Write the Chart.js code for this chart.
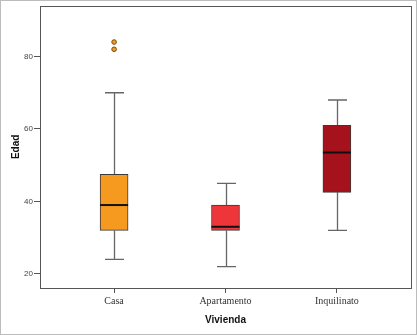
<!DOCTYPE html>
<html>
<head>
<meta charset="utf-8">
<title>Edad por Vivienda</title>
<script src="https://cdn.jsdelivr.net/npm/chart.js@4/dist/chart.umd.min.js"></script>
<style>
  html, body { margin: 0; padding: 0; background: #fff; }
  #wrap { width: 417px; height: 335px; }
</style>
</head>
<body>
<div id="wrap"><canvas id="c" width="417" height="335"></canvas></div>
<script>
// Housing categories and their positions on the x axis
const categories = ['Casa', 'Apartamento', 'Inquilinato'];
const positions = [1, 2, 3];

// Five-number summaries of age (Edad) per housing type
const whiskerLow = [24, 22, 32];
const quartile1  = [32, 32, 42.5];
const medians    = [39, 33, 53.5];
const quartile3  = [47.5, 39, 61];
const whiskerHigh = [70, 45, 68];

// Outlying ages (category position, value)
const outlierCategory = [1, 1];
const outlierValues   = [84, 82];

// Y axis tick labels
const yTicks = [20, 40, 60, 80];

const boxColors = ['#F69A1F', '#EE353A', '#A6121B'];

const boxData = positions.map((p, i) => ({ x: p, y: [quartile1[i], quartile3[i]] }));
const outlierData = outlierValues.map((v, i) => ({ x: outlierCategory[i], y: v }));

// Paints the white page with its thin grey outline, and the plot frame
const pageFrame = {
  id: 'pageFrame',
  beforeDraw(chart) {
    const ctx = chart.ctx;
    ctx.save();
    ctx.fillStyle = '#ffffff';
    ctx.fillRect(0, 0, chart.width, chart.height);
    ctx.strokeStyle = '#bcbcbc';
    ctx.lineWidth = 1;
    ctx.strokeRect(0.5, 0.5, chart.width - 1, chart.height - 1);
    ctx.restore();
  },
  afterDraw(chart) {
    const a = chart.chartArea;
    const ctx = chart.ctx;
    ctx.save();
    ctx.strokeStyle = '#555555';
    ctx.lineWidth = 1;
    ctx.strokeRect(Math.round(a.left) + 0.5, Math.round(a.top) + 0.5,
      Math.round(a.right - a.left), Math.round(a.bottom - a.top));
    ctx.restore();
  }
};

// Whiskers, caps and median lines drawn through the chart scales
const boxExtras = {
  id: 'boxExtras',
  beforeDatasetsDraw(chart) {
    const xs = chart.scales.x, ys = chart.scales.y;
    const bars = chart.getDatasetMeta(0).data;
    const ctx = chart.ctx;
    ctx.save();
    ctx.strokeStyle = '#666666';
    ctx.lineWidth = 1.3;
    positions.forEach((p, i) => {
      const x = Math.round(xs.getPixelForValue(p)) + 0.5;
      const capHalf = bars[i].width * 0.34;
      const yHi = ys.getPixelForValue(whiskerHigh[i]);
      const yQ3 = ys.getPixelForValue(quartile3[i]);
      const yQ1 = ys.getPixelForValue(quartile1[i]);
      const yLo = ys.getPixelForValue(whiskerLow[i]);
      ctx.beginPath();
      ctx.moveTo(x, yHi); ctx.lineTo(x, yQ3);
      ctx.moveTo(x, yQ1); ctx.lineTo(x, yLo);
      ctx.moveTo(x - capHalf, yHi); ctx.lineTo(x + capHalf, yHi);
      ctx.moveTo(x - capHalf, yLo); ctx.lineTo(x + capHalf, yLo);
      ctx.stroke();
    });
    ctx.restore();
  },
  afterDatasetsDraw(chart) {
    const xs = chart.scales.x, ys = chart.scales.y;
    const bars = chart.getDatasetMeta(0).data;
    const ctx = chart.ctx;
    ctx.save();
    ctx.strokeStyle = '#111111';
    ctx.lineWidth = 2;
    positions.forEach((p, i) => {
      const x = xs.getPixelForValue(p);
      const half = bars[i].width / 2;
      const y = ys.getPixelForValue(medians[i]);
      ctx.beginPath();
      ctx.moveTo(x - half, y); ctx.lineTo(x + half, y);
      ctx.stroke();
    });
    ctx.restore();
  }
};

new Chart(document.getElementById('c'), {
  type: 'bar',
  data: {
    datasets: [
      {
        type: 'bar',
        data: boxData,
        backgroundColor: boxColors,
        borderColor: '#3a3a3a',
        borderWidth: 1,
        borderSkipped: false,
        barThickness: 28,
        order: 2
      },
      {
        type: 'scatter',
        data: outlierData,
        pointStyle: 'circle',
        pointRadius: 2.3,
        pointBackgroundColor: '#F69A1F',
        pointBorderColor: '#7a4a0a',
        pointBorderWidth: 1,
        showLine: false,
        order: 1
      }
    ]
  },
  options: {
    responsive: false,
    animation: false,
    devicePixelRatio: 1,
    layout: { padding: { top: 4, right: 6, left: 0, bottom: 0 } },
    plugins: { legend: { display: false }, tooltip: { enabled: false } },
    scales: {
      x: {
        type: 'linear',
        min: 0.335,
        max: 3.665,
        offset: false,
        afterFit(scale) { scale.height = 47; },
        afterBuildTicks(scale) { scale.ticks = positions.map(v => ({ value: v })); },
        grid: { display: true, offset: false, drawOnChartArea: false, drawTicks: true, tickLength: 5, color: '#555555', lineWidth: 1 },
        border: { display: false },
        ticks: {
          padding: 2,
          color: '#333333',
          font: { family: '"Liberation Serif", "Times New Roman", serif', size: 10 },
          callback: (v) => categories[positions.indexOf(v)] || ''
        },
        title: {
          display: true,
          text: 'Vivienda',
          color: '#111111',
          font: { family: '"Liberation Sans", Arial, sans-serif', size: 10, weight: 'bold' },
          padding: { top: 0, bottom: 9 }
        }
      },
      y: {
        type: 'linear',
        min: 16.1,
        max: 94,
        afterFit(scale) { scale.width = 40; },
        afterBuildTicks(scale) { scale.ticks = yTicks.map(v => ({ value: v })); },
        grid: { display: true, drawOnChartArea: false, drawTicks: true, tickLength: 6, color: '#555555', lineWidth: 1 },
        border: { display: false },
        ticks: {
          padding: 1,
          color: '#444444',
          font: { family: '"Liberation Sans", Arial, sans-serif', size: 8 }
        },
        title: {
          display: true,
          text: 'Edad',
          color: '#111111',
          font: { family: '"Liberation Sans", Arial, sans-serif', size: 10, weight: 'bold' },
          padding: { top: 10, bottom: 0 }
        }
      }
    }
  },
  plugins: [pageFrame, boxExtras]
});
</script>
</body>
</html>
